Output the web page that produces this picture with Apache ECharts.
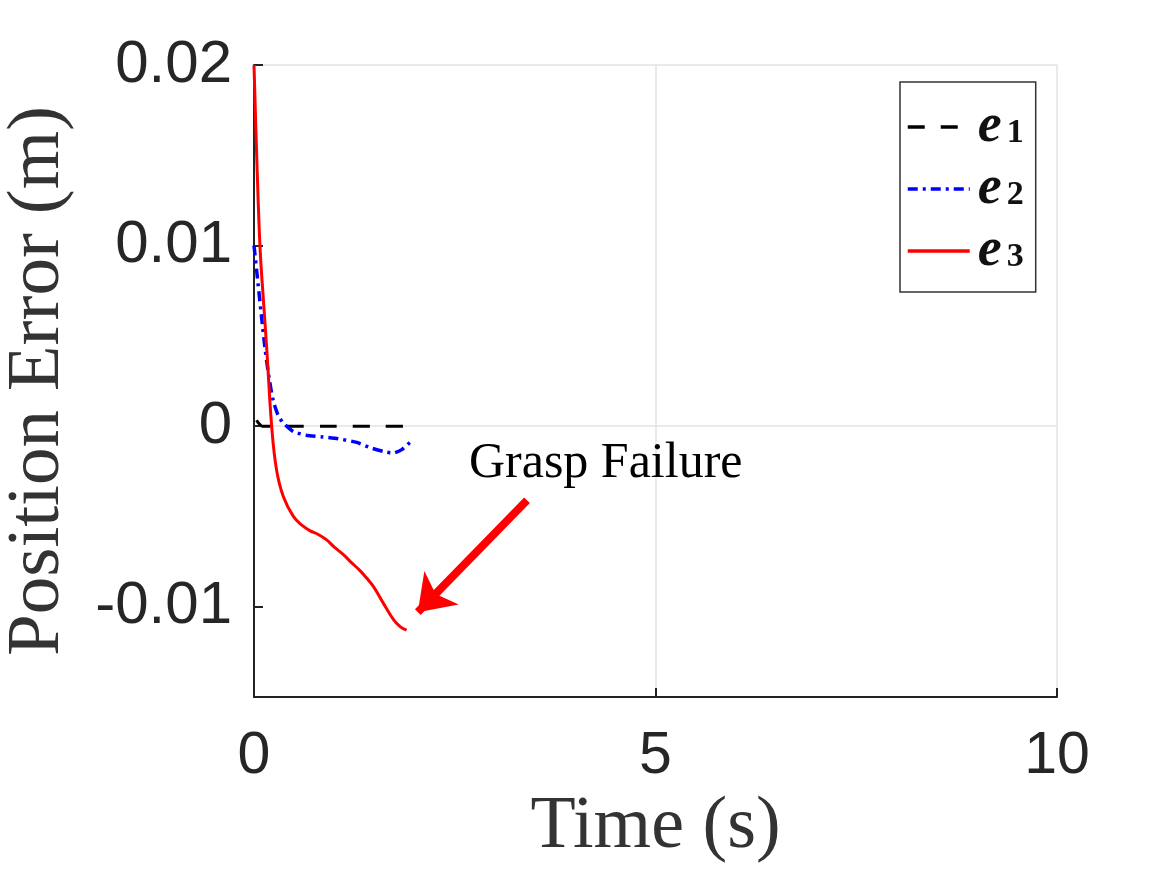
<!DOCTYPE html>
<html>
<head>
<meta charset="utf-8">
<script src="https://cdn.jsdelivr.net/npm/echarts@6/dist/echarts.min.js"></script>
<style>
  html, body { margin: 0; padding: 0; background: #fff; }
  #chart { width: 1166px; height: 874px; }
</style>
</head>
<body>
<div id="chart"></div>
<script>
// e1 - black dashed
var t1 = [0, 0.02, 0.05, 0.1, 0.2, 0.5, 1.0, 1.5, 1.93];
var e1 = [0.0, 0.0004, 0.0002, 0.0, 0.0, 0.0, 0.0, 0.0, 0.0];
// e2 - blue dash-dot
var t2 = [0, 0.05, 0.1, 0.14, 0.19, 0.24, 0.3, 0.36, 0.49, 0.65, 0.86, 1.05, 1.28, 1.45, 1.61, 1.73, 1.84, 1.94];
var e2 = [0.0100, 0.0079, 0.0058, 0.0042, 0.0026, 0.0014, 0.0006, 0.0002, -0.0003, -0.0005, -0.0006, -0.0007, -0.0009, -0.0012, -0.0014, -0.0015, -0.0013, -0.0009];
// e3 - red solid
var t3 = [0, 0.035, 0.075, 0.12, 0.16, 0.22, 0.28, 0.365, 0.49, 0.6, 0.7, 0.8, 0.905, 1.0, 1.11, 1.2, 1.32, 1.4, 1.49, 1.61, 1.735, 1.82, 1.9];
var e3 = [0.02, 0.0148, 0.0099, 0.0068, 0.0042, 0.0, -0.0024, -0.0039, -0.005, -0.0055, -0.0058, -0.0060, -0.0063, -0.0067, -0.0071, -0.0075, -0.008, -0.0084, -0.0089, -0.0098, -0.0107, -0.0111, -0.0113];

var names = ['e1', 'e2', 'e3'];
var yTicks = [-0.01, 0, 0.01, 0.02];

// annotation
var noteText = 'Grasp Failure';
var notePos = [4.38, -0.0021];
var arrowFrom = [3.4, -0.0041];
var arrowTo = [2.04, -0.0103];

function pairs(t, v) {
  var out = [];
  for (var i = 0; i < t.length; i++) out.push([t[i], v[i]]);
  return out;
}

var chart = echarts.init(document.getElementById('chart'));

var option = {
  backgroundColor: '#fff',
  animation: false,
  grid: { left: 254, right: 109, top: 65, bottom: 177, containLabel: false, outerBoundsMode: 'none' },
  xAxis: {
    type: 'value',
    min: 0, max: 10, interval: 5,
    name: 'Time (s)',
    nameLocation: 'middle',
    nameGap: 94,
    nameTextStyle: { fontFamily: 'Liberation Serif', fontSize: 74, color: '#333' },
    axisLine: { onZero: false, lineStyle: { color: '#222', width: 2 } },
    axisTick: { inside: true, length: 9, lineStyle: { color: '#222', width: 2 } },
    axisLabel: { margin: 30, fontFamily: 'Liberation Sans', fontSize: 59, color: '#262626' },
    splitLine: { show: true, lineStyle: { color: '#e3e3e3', width: 1.5 } }
  },
  yAxis: {
    type: 'value',
    min: -0.015, max: 0.02, interval: 0.005,
    name: 'Position Error (m)',
    nameLocation: 'middle',
    nameGap: 178,
    nameTextStyle: { fontFamily: 'Liberation Serif', fontSize: 75, color: '#333' },
    axisLine: { show: true, onZero: false, lineStyle: { color: '#222', width: 2 } },
    axisTick: { show: true, inside: true, length: 9, customValues: yTicks, lineStyle: { color: '#222', width: 2 } },
    axisLabel: {
      margin: 22, fontFamily: 'Liberation Sans', fontSize: 60, color: '#262626',
      customValues: yTicks,
      formatter: function (v) { return Math.abs(v) < 1e-9 ? '0' : String(+v.toFixed(3)); }
    },
    splitLine: { show: true, lineStyle: { color: ['rgba(0,0,0,0)', '#e3e3e3'], width: 1.5 } }
  },
  legend: {
    orient: 'vertical',
    left: 900, top: 82,
    padding: [18, 12, 14, 6],
    itemGap: 8,
    itemWidth: 62,
    itemHeight: 30,
    borderColor: '#333', borderWidth: 1.5,
    backgroundColor: '#fff',
    itemStyle: { opacity: 0 },
    lineStyle: { width: 3.5, dashOffset: 0 },
    data: names,
    formatter: function (n) { return '{e|e}{s|' + n.slice(1) + '}'; },
    textStyle: {
      rich: {
        e: { fontFamily: 'Liberation Serif', fontStyle: 'italic', fontWeight: 'bold', fontSize: 54, color: '#111', lineHeight: 46, padding: [0, 0, 0, 3] },
        s: { fontFamily: 'Liberation Serif', fontWeight: 'bold', fontSize: 34, color: '#111', lineHeight: 20, verticalAlign: 'bottom', padding: [0, 0, 0, 5] }
      }
    }
  },
  series: [
    {
      name: 'e1', type: 'line', data: pairs(t1, e1), symbol: 'none', smooth: 0.2,
      itemStyle: { color: '#000' },
      lineStyle: { color: '#000', width: 3, type: [17, 16], dashOffset: 24 }
    },
    {
      name: 'e2', type: 'line', data: pairs(t2, e2), symbol: 'none', smooth: 0.2,
      itemStyle: { color: '#0000ff' },
      lineStyle: { color: '#0000ff', width: 3.5, type: [10, 5, 3, 5] }
    },
    {
      name: 'e3', type: 'line', data: pairs(t3, e3), symbol: 'none', smooth: 0.4,
      itemStyle: { color: '#ff0000' },
      lineStyle: { color: '#ff0000', width: 3 },
      markLine: {
        silent: true,
        animation: false,
        symbol: ['none', 'arrow'],
        symbolSize: [36, 34],
        label: { show: false },
        lineStyle: { color: '#ff0000', width: 8, type: 'solid' },
        data: [[{ coord: arrowFrom }, { coord: arrowTo }]]
      },
      markPoint: {
        silent: true,
        symbol: 'circle',
        symbolSize: 0,
        label: {
          show: true, position: 'inside',
          formatter: noteText,
          fontFamily: 'Liberation Serif', fontSize: 50, color: '#000'
        },
        data: [{ coord: notePos }]
      }
    }
  ]
};

chart.setOption(option);
</script>
</body>
</html>
